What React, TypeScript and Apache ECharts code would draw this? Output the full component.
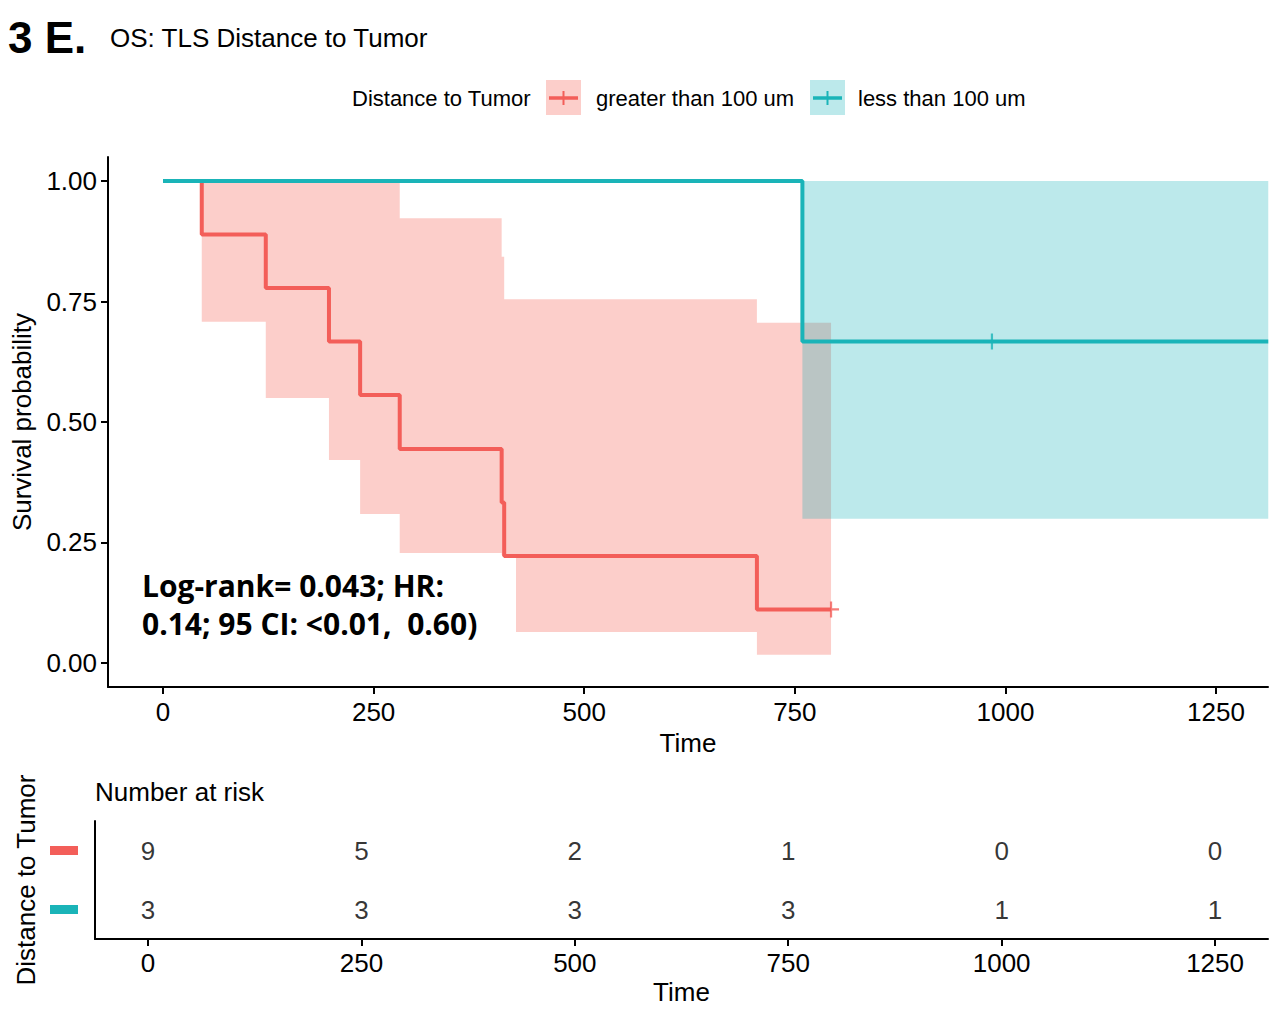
import React, { useEffect, useRef } from "react";
import * as echarts from "echarts";

// ---------- data ----------
const groups = ["greater than 100 um", "less than 100 um"];
const legendTitle = "Distance to Tumor";

const redTimes = [0, 46, 122, 197, 234, 281, 402, 405, 705, 793];
const redSurv = [1, 0.889, 0.778, 0.667, 0.556, 0.444, 0.333, 0.222, 0.111, 0.111];
const redBandTimes = [46, 122, 197, 234, 281, 402, 405, 705];
const redBandLower = [0.708, 0.55, 0.421, 0.309, 0.228, 0.14, 0.064, 0.017];
const redBandUpper = [1, 1, 1, 1, 0.923, 0.843, 0.755, 0.706];
const redBandEnd = 793;
const redCensor = [[793, 0.111]];

const tealTimes = [0, 759, 1312];
const tealSurv = [1, 0.667, 0.667];
const tealBandTimes = [759];
const tealBandLower = [0.299];
const tealBandUpper = [1];
const tealBandEnd = 1312;
const tealCensor = [[984, 0.667]];

const riskTimes = [0, 250, 500, 750, 1000, 1250];
const riskRed = [9, 5, 2, 1, 0, 0];
const riskTeal = [3, 3, 3, 3, 1, 1];

const xTicks = [0, 250, 500, 750, 1000, 1250];
const yTicks = [0, 0.25, 0.5, 0.75, 1];

const annotationLines = ["Log-rank= 0.043; HR:", "0.14; 95 CI: <0.01,  0.60)"];

// ---------- styles ----------
const RED = "#F35E59";
const TEAL = "#1AB4B8";
const RED_BAND = "rgba(248,118,109,0.36)";
const TEAL_BAND = "rgba(0,171,178,0.264)";
const FONT = "'Liberation Sans', Arial, Helvetica, sans-serif";
const ANNOT_FONT = "'Open Sans', Lato, sans-serif";

function bandSeries(times: number[], lower: number[], upper: number[], end: number, fill: string) {
  return {
    type: "custom",
    xAxisIndex: 0,
    yAxisIndex: 0,
    z: 1,
    silent: true,
    data: times.map((t, i) => [t, lower[i]]),
    encode: { x: 0, y: 1 },
    renderItem: (params: any, api: any) => {
      if (params.dataIndex !== 0) return null;
      const n = times.length;
      const pts: number[][] = [];
      for (let i = 0; i < n; i++) {
        const x0 = times[i];
        const x1 = i < n - 1 ? times[i + 1] : end;
        pts.push(api.coord([x0, upper[i]]));
        pts.push(api.coord([x1, upper[i]]));
      }
      for (let i = n - 1; i >= 0; i--) {
        const x0 = times[i];
        const x1 = i < n - 1 ? times[i + 1] : end;
        pts.push(api.coord([x1, lower[i]]));
        pts.push(api.coord([x0, lower[i]]));
      }
      return { type: "polygon", shape: { points: pts }, style: { fill } };
    },
  };
}

const axisLineStyle = { show: true, onZero: false, lineStyle: { color: "#000", width: 2 } };
const tickStyle = (vals: number[]) => ({
  show: true,
  length: 7,
  customValues: vals,
  lineStyle: { color: "#000", width: 2 },
});

export default function App() {
  const ref = useRef<HTMLDivElement>(null);

  useEffect(() => {
    if (!ref.current) return;
    const chart = echarts.init(ref.current, undefined, { renderer: "svg" });

    const riskLabel = {
      show: true,
      position: "inside",
      fontSize: 26,
      color: "#000",
      fontFamily: FONT,
      formatter: (p: any) => String(p.value[2]),
    };

    const option: any = {
      animation: false,
      backgroundColor: "#fff",
      textStyle: { fontFamily: FONT, color: "#000" },
      grid: [
        { left: 108, top: 157, width: 1160, height: 530 },
        { left: 95, top: 821, width: 1173, height: 118 },
      ],
      xAxis: [
        {
          type: "value",
          gridIndex: 0,
          min: -65.3,
          max: 1311.7,
          axisLine: axisLineStyle,
          axisTick: tickStyle(xTicks),
          axisLabel: {
            customValues: xTicks,
            fontSize: 26,
            color: "#000",
            margin: 12,
            fontFamily: FONT,
            formatter: (v: number) => String(v),
          },
          splitLine: { show: false },
          name: "Time",
          nameLocation: "middle",
          nameGap: 38,
          nameTextStyle: { fontSize: 26, color: "#000", fontFamily: FONT },
        },
        {
          type: "value",
          gridIndex: 1,
          min: -62.1,
          max: 1312,
          axisLine: axisLineStyle,
          axisTick: tickStyle(xTicks),
          axisLabel: {
            customValues: xTicks,
            fontSize: 26,
            color: "#000",
            margin: 11,
            fontFamily: FONT,
            formatter: (v: number) => String(v),
          },
          splitLine: { show: false },
          name: "Time",
          nameLocation: "middle",
          nameGap: 40,
          nameTextStyle: { fontSize: 26, color: "#000", fontFamily: FONT },
        },
      ],
      yAxis: [
        {
          type: "value",
          gridIndex: 0,
          min: -0.05,
          max: 1.05,
          axisLine: axisLineStyle,
          axisTick: tickStyle(yTicks),
          axisLabel: {
            customValues: yTicks,
            fontSize: 26,
            color: "#000",
            margin: 11,
            fontFamily: FONT,
            formatter: (v: number) => v.toFixed(2),
          },
          splitLine: { show: false },
          name: "Survival probability",
          nameLocation: "middle",
          nameRotate: 90,
          nameGap: 68,
          nameTextStyle: { fontSize: 26, color: "#000", fontFamily: FONT },
        },
        {
          type: "category",
          gridIndex: 1,
          data: [groups[1], groups[0]],
          axisLine: axisLineStyle,
          axisTick: { show: false },
          axisLabel: {
            margin: 17,
            formatter: (v: string) => (v === groups[0] ? "{r|}" : "{t|}"),
            rich: {
              r: { backgroundColor: RED, width: 28, height: 9 },
              t: { backgroundColor: TEAL, width: 28, height: 9 },
            },
          },
          splitLine: { show: false },
          name: legendTitle,
          nameLocation: "middle",
          nameRotate: 90,
          nameGap: 56,
          nameTextStyle: { fontSize: 26, color: "#000", fontFamily: FONT },
        },
      ],
      series: [
        bandSeries(redBandTimes, redBandLower, redBandUpper, redBandEnd, RED_BAND),
        bandSeries(tealBandTimes, tealBandLower, tealBandUpper, tealBandEnd, TEAL_BAND),
        {
          type: "line",
          name: groups[0],
          xAxisIndex: 0,
          yAxisIndex: 0,
          z: 5,
          step: "end",
          showSymbol: false,
          symbol: "none",
          lineStyle: { color: RED, width: 4 },
          data: redTimes.map((t, i) => [t, redSurv[i]]),
        },
        {
          type: "line",
          name: groups[1],
          xAxisIndex: 0,
          yAxisIndex: 0,
          z: 5,
          step: "end",
          showSymbol: false,
          symbol: "none",
          lineStyle: { color: TEAL, width: 4 },
          data: tealTimes.map((t, i) => [t, tealSurv[i]]),
        },
        {
          type: "scatter",
          xAxisIndex: 0,
          yAxisIndex: 0,
          z: 6,
          symbol: "path://M5,0L5,10M0,5L10,5",
          symbolSize: 16,
          itemStyle: { color: "transparent", borderColor: RED, borderWidth: 2.2 },
          data: redCensor,
        },
        {
          type: "scatter",
          xAxisIndex: 0,
          yAxisIndex: 0,
          z: 6,
          symbol: "path://M5,0L5,10M0,5L10,5",
          symbolSize: 16,
          itemStyle: { color: "transparent", borderColor: TEAL, borderWidth: 2.2 },
          data: tealCensor,
        },
        {
          type: "scatter",
          xAxisIndex: 1,
          yAxisIndex: 1,
          symbolSize: 1,
          itemStyle: { color: "transparent" },
          label: riskLabel,
          data: riskTimes.map((t, i) => [t, 1, riskRed[i]]),
        },
        {
          type: "scatter",
          xAxisIndex: 1,
          yAxisIndex: 1,
          symbolSize: 1,
          itemStyle: { color: "transparent" },
          label: riskLabel,
          data: riskTimes.map((t, i) => [t, 0, riskTeal[i]]),
        },
      ],
      graphic: [
        {
          type: "text",
          x: 8,
          y: 37,
          style: { text: "3 E.", font: `bold 44px ${FONT}`, fill: "#000", textAlign: "left", textVerticalAlign: "middle" },
        },
        {
          type: "text",
          x: 110,
          y: 38,
          style: { text: "OS: TLS Distance to Tumor", font: `26px ${FONT}`, fill: "#000", textAlign: "left", textVerticalAlign: "middle" },
        },
        {
          type: "text",
          x: 352,
          y: 98,
          style: { text: legendTitle, font: `22px ${FONT}`, fill: "#000", textAlign: "left", textVerticalAlign: "middle" },
        },
        { type: "rect", shape: { x: 546, y: 80, width: 35, height: 35 }, style: { fill: RED_BAND } },
        { type: "line", shape: { x1: 549, y1: 98, x2: 578, y2: 98 }, style: { stroke: RED, lineWidth: 3.5 } },
        { type: "line", shape: { x1: 563.5, y1: 91, x2: 563.5, y2: 105 }, style: { stroke: RED, lineWidth: 2 } },
        {
          type: "text",
          x: 596,
          y: 98,
          style: { text: groups[0], font: `22px ${FONT}`, fill: "#000", textAlign: "left", textVerticalAlign: "middle" },
        },
        { type: "rect", shape: { x: 810, y: 80, width: 35, height: 35 }, style: { fill: TEAL_BAND } },
        { type: "line", shape: { x1: 813, y1: 98, x2: 842, y2: 98 }, style: { stroke: TEAL, lineWidth: 3.5 } },
        { type: "line", shape: { x1: 827.5, y1: 91, x2: 827.5, y2: 105 }, style: { stroke: TEAL, lineWidth: 2 } },
        {
          type: "text",
          x: 858,
          y: 98,
          style: { text: groups[1], font: `22px ${FONT}`, fill: "#000", textAlign: "left", textVerticalAlign: "middle" },
        },
        // annotation box
        { type: "rect", z: 3, shape: { x: 133, y: 555, width: 383, height: 92 }, style: { fill: "#fff" } },
        {
          type: "text",
          z: 10,
          x: 142,
          y: 585,
          style: { text: annotationLines[0], font: `bold 30px ${ANNOT_FONT}`, fill: "#000", textAlign: "left", textVerticalAlign: "middle" },
        },
        {
          type: "text",
          z: 10,
          x: 142,
          y: 623,
          style: { text: annotationLines[1], font: `bold 30px ${ANNOT_FONT}`, fill: "#000", textAlign: "left", textVerticalAlign: "middle" },
        },
        {
          type: "text",
          x: 95,
          y: 792,
          style: { text: "Number at risk", font: `26px ${FONT}`, fill: "#000", textAlign: "left", textVerticalAlign: "middle" },
        },
      ],
    };

    chart.setOption(option);
    return () => chart.dispose();
  }, []);

  return (
    <div
      ref={ref}
      style={{ position: "absolute", left: 0, top: 0, width: 1269, height: 1009, background: "#fff" }}
    />
  );
}
